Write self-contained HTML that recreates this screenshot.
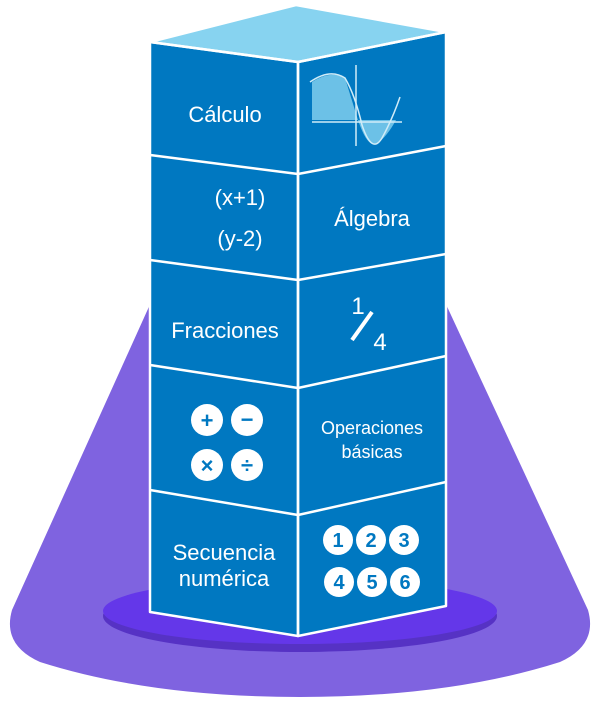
<!DOCTYPE html>
<html><head><meta charset="utf-8"><style>body{margin:0;background:#fff}svg{display:block}</style></head><body>
<svg width="600" height="703" viewBox="0 0 600 703" font-family="Liberation Sans, sans-serif">
<path d="M152,300 L444,300 L588,610 Q598,645 560,662 Q450,697 300,697 Q150,697 40,662 Q2,645 12,610 Z" fill="#7f63e0"/>
<ellipse cx="300" cy="616" rx="197" ry="36" fill="#5632c4"/>
<ellipse cx="300" cy="611" rx="197" ry="33" fill="#6437e9"/>
<!-- faces -->
<polygon points="150,42 298,62 298,636 150,612" fill="#0078c1"/>
<polygon points="298,62 446,32 446,606 298,636" fill="#0078c1"/>
<polygon points="150,42 296,5 446,32 298,62" fill="#87d3f0"/>
<g stroke="#fff" stroke-width="2.5" fill="none" stroke-linejoin="round">
<polygon points="150,42 296,5 446,32 298,62"/>
<polygon points="150,42 298,62 298,636 150,612"/>
<polygon points="298,62 446,32 446,606 298,636"/>
<polyline points="150,155 298,174 446,146"/>
<polyline points="150,260 298,280 446,254"/>
<polyline points="150,365 298,388 446,356"/>
<polyline points="150,490 298,515 446,482"/>
</g>
<g fill="#fff" text-anchor="middle">
<text x="225" y="122" font-size="22">Cálculo</text>
<text x="240" y="205" font-size="22">(x+1)</text>
<text x="240" y="246" font-size="22">(y-2)</text>
<text x="372" y="226" font-size="22">Álgebra</text>
<text x="225" y="338" font-size="22">Fracciones</text>
<text x="372" y="434" font-size="18">Operaciones</text>
<text x="372" y="458" font-size="18">básicas</text>
<text x="224" y="560" font-size="22">Secuencia</text>
<text x="224" y="586" font-size="22">numérica</text>
<text x="358" y="314" font-size="24">1</text>
<text x="380" y="350" font-size="24">4</text>
</g>
<line x1="352" y1="340" x2="372" y2="312" stroke="#fff" stroke-width="4"/>
<!-- calculus graph -->
<path d="M312,82 Q330,70 345,78 L358,120 L312,120 Z" fill="#87d3f0" opacity="0.8"/>
<path d="M358,120 Q368,150 378,143 Q388,135 396,120 Z" fill="#87d3f0" opacity="0.8"/>
<g stroke="#d0ecf8" stroke-width="1.5" fill="none">
<line x1="312" y1="122" x2="402" y2="122"/>
<line x1="356" y1="65" x2="356" y2="146"/>
<path d="M310,82 Q330,68 345,78 Q355,95 362,125 Q372,155 382,138 Q392,120 400,97"/>
</g>
<!-- operation circles -->
<g fill="#fff">
<circle cx="207" cy="420" r="16"/><circle cx="247" cy="420" r="16"/>
<circle cx="207" cy="465" r="16"/><circle cx="247" cy="465" r="16"/>
</g>
<g fill="#0078c1" font-weight="bold" text-anchor="middle" font-size="22">
<text x="207" y="428">+</text><text x="247" y="427">−</text>
<text x="207" y="473">×</text><text x="247" y="473">÷</text>
</g>
<g fill="#fff">
<circle cx="338" cy="540" r="15"/><circle cx="371" cy="540" r="15"/><circle cx="404" cy="540" r="15"/>
<circle cx="339" cy="582" r="15"/><circle cx="372" cy="582" r="15"/><circle cx="405" cy="582" r="15"/>
</g>
<g fill="#0078c1" font-weight="bold" text-anchor="middle" font-size="20">
<text x="338" y="547">1</text><text x="371" y="547">2</text><text x="404" y="547">3</text>
<text x="339" y="589">4</text><text x="372" y="589">5</text><text x="405" y="589">6</text>
</g>
</svg>
</body></html>
